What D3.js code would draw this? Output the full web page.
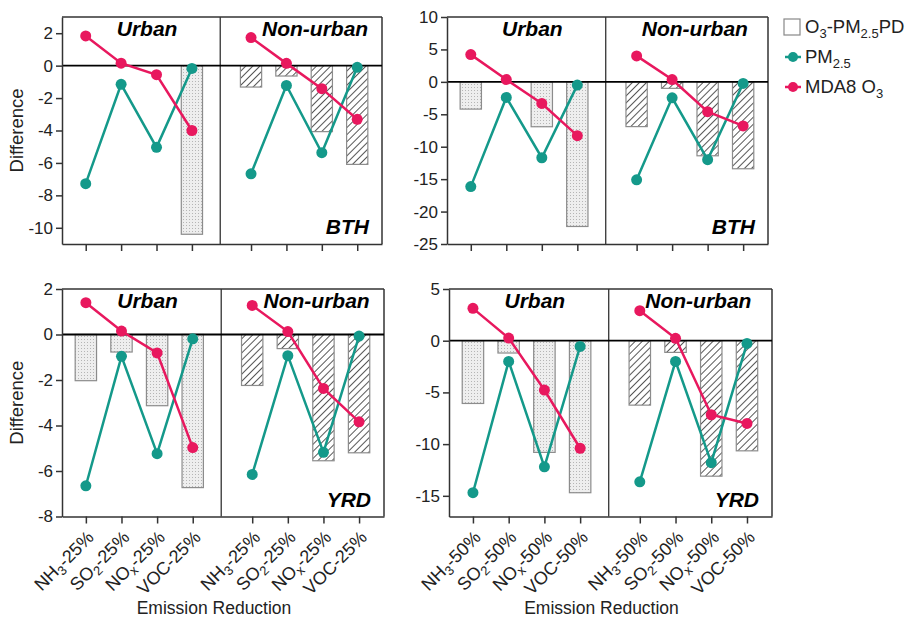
<!DOCTYPE html>
<html>
<head>
<meta charset="utf-8">
<title>Emission reduction differences</title>
<script src="https://cdn.jsdelivr.net/npm/d3@7"></script>
<style>
  body { margin: 0; background: #fff; }
  svg { font-family: "Liberation Sans", Arial, Helvetica, sans-serif; }
  .tick text { font-size: 17px; fill: #222; }
  .domain, .tick line { stroke: #333; stroke-width: 1.5; }
</style>
</head>
<body>
<script>
// values (difference, by emission reduction)
var pollutantMain = ["NH", "SO", "NO", "VOC"];
var pollutantSub = ["3", "2", "x", ""];
var cuts = ["-25%", "-50%"];
var regions = ["Urban", "Non-urban"];

var bth25_pd_urban = [0, 0, 0, -10.4];
var bth25_pd_nonurban = [-1.32, -0.64, -4.07, -6.09];
var bth25_pm_urban = [-7.28, -1.15, -5.04, -0.17];
var bth25_pm_nonurban = [-6.67, -1.22, -5.37, -0.1];
var bth25_o3_urban = [1.83, 0.15, -0.56, -4.0];
var bth25_o3_nonurban = [1.73, 0.14, -1.42, -3.31];

var bth50_pd_urban = [-4.2, 0, -6.92, -22.3];
var bth50_pd_nonurban = [-6.9, -1.0, -11.4, -13.4];
var bth50_pm_urban = [-16.15, -2.4, -11.7, -0.5];
var bth50_pm_nonurban = [-15.1, -2.46, -12.0, -0.25];
var bth50_o3_urban = [4.2, 0.36, -3.33, -8.3];
var bth50_o3_nonurban = [4.0, 0.36, -4.6, -6.8];

var yrd25_pd_urban = [-2.03, -0.77, -3.13, -6.73];
var yrd25_pd_nonurban = [-2.24, -0.62, -5.55, -5.2];
var yrd25_pm_urban = [-6.65, -0.96, -5.24, -0.19];
var yrd25_pm_nonurban = [-6.15, -0.93, -5.18, -0.07];
var yrd25_o3_urban = [1.4, 0.15, -0.81, -4.97];
var yrd25_o3_nonurban = [1.28, 0.13, -2.37, -3.84];

var yrd50_pd_urban = [-6.07, -1.19, -10.8, -14.7];
var yrd50_pd_nonurban = [-6.23, -1.13, -13.1, -10.65];
var yrd50_pm_urban = [-14.7, -2.0, -12.2, -0.55];
var yrd50_pm_nonurban = [-13.65, -2.0, -11.8, -0.26];
var yrd50_o3_urban = [3.13, 0.26, -4.77, -10.4];
var yrd50_o3_nonurban = [2.9, 0.23, -7.16, -8.0];

var ticksBth25 = [2, 0, -2, -4, -6, -8, -10];
var ticksBth50 = [10, 5, 0, -5, -10, -15, -20, -25];
var ticksYrd25 = [2, 0, -2, -4, -6, -8];
var ticksYrd50 = [5, 0, -5, -10, -15];

var teal = "#14998a", pink = "#e8185e";

var svg = d3.select("body").append("svg")
    .attr("width", 919).attr("height", 624);

var defs = svg.append("defs");
var dots = defs.append("pattern").attr("id", "dots")
    .attr("patternUnits", "userSpaceOnUse").attr("width", 3).attr("height", 3);
dots.append("rect").attr("width", 3).attr("height", 3).attr("fill", "#eeeeee");
dots.append("rect").attr("width", 1).attr("height", 1).attr("fill", "#b5b5b5");
var hatch = defs.append("pattern").attr("id", "hatch")
    .attr("patternUnits", "userSpaceOnUse").attr("width", 5).attr("height", 5)
    .attr("patternTransform", "rotate(45)");
hatch.append("rect").attr("width", 5).attr("height", 5).attr("fill", "#fff");
hatch.append("line").attr("x1", 0).attr("y1", 0).attr("x2", 0).attr("y2", 5)
    .attr("stroke", "#444").attr("stroke-width", 1.8);

var panels = [
  {x0: 62, x1: 382, y0: 17, y1: 244, domain: [-11, 3], ticks: ticksBth25, name: "BTH", cut: 0, ylab: true, xlab: false, shift: 14,
   pd: [bth25_pd_urban, bth25_pd_nonurban], pm: [bth25_pm_urban, bth25_pm_nonurban], o3: [bth25_o3_urban, bth25_o3_nonurban]},
  {x0: 447, x1: 768, y0: 17, y1: 244, domain: [-25, 10], ticks: ticksBth50, name: "BTH", cut: 1, ylab: false, xlab: false, shift: 8,
   pd: [bth50_pd_urban, bth50_pd_nonurban], pm: [bth50_pm_urban, bth50_pm_nonurban], o3: [bth50_o3_urban, bth50_o3_nonurban]},
  {x0: 62, x1: 384, y0: 289, y1: 516.5, domain: [-8, 2], ticks: ticksYrd25, name: "YRD", cut: 0, ylab: true, xlab: true, shift: 14,
   pd: [yrd25_pd_urban, yrd25_pd_nonurban], pm: [yrd25_pm_urban, yrd25_pm_nonurban], o3: [yrd25_o3_urban, yrd25_o3_nonurban]},
  {x0: 449, x1: 772, y0: 289, y1: 516.5, domain: [-17, 5], ticks: ticksYrd50, name: "YRD", cut: 1, ylab: false, xlab: true, shift: 8,
   pd: [yrd50_pd_urban, yrd50_pd_nonurban], pm: [yrd50_pm_urban, yrd50_pm_nonurban], o3: [yrd50_o3_urban, yrd50_o3_nonurban]}
];

function slot(r, i) { return r * 4.67 + i; }
var slots = [0, 1, 2, 3, 4.67, 5.67, 6.67, 7.67];

panels.forEach(function(p) {
  var g = svg.append("g");
  var x = d3.scaleLinear().domain([-0.67, 8.37]).range([p.x0, p.x1]);
  var y = d3.scaleLinear().domain(p.domain).range([p.y1, p.y0]);
  var bw = (x(1) - x(0)) * 0.6;

  // bars (zero values draw nothing)
  regions.forEach(function(reg, r) {
    g.selectAll(null).data(p.pd[r]).enter()
      .append("rect")
        .attr("x", function(d, i) { return x(slot(r, i)) - bw / 2; })
        .attr("y", function(d) { return y(Math.max(0, d)); })
        .attr("width", bw)
        .attr("height", function(d) { return Math.abs(y(d) - y(0)); })
        .attr("fill", r === 0 ? "url(#dots)" : "url(#hatch)")
        .attr("stroke", function(d) { return d === 0 ? "none" : "#8c8c8c"; })
        .attr("stroke-width", 1.2);
  });

  // frame
  g.append("line").attr("x1", p.x0).attr("x2", p.x1).attr("y1", p.y0).attr("y2", p.y0)
    .attr("stroke", "#333").attr("stroke-width", 1.5);
  g.append("line").attr("x1", p.x1).attr("x2", p.x1).attr("y1", p.y0).attr("y2", p.y1)
    .attr("stroke", "#333").attr("stroke-width", 1.5);
  g.append("line").attr("x1", x(3.8)).attr("x2", x(3.8)).attr("y1", p.y0).attr("y2", p.y1)
    .attr("stroke", "#333").attr("stroke-width", 1.3);
  g.append("line").attr("x1", p.x0).attr("x2", p.x1).attr("y1", y(0)).attr("y2", y(0))
    .attr("stroke", "#000").attr("stroke-width", 1.8);

  g.append("g").attr("transform", "translate(" + p.x0 + ",0)")
    .call(d3.axisLeft(y).tickValues(p.ticks).tickSize(6).tickSizeOuter(0).tickPadding(3)
      .tickFormat(function(d) { return String(d); }));
  g.append("g").attr("transform", "translate(0," + p.y1 + ")")
    .call(d3.axisBottom(x).tickValues(slots).tickSize(7).tickSizeOuter(0).tickFormat(""));

  // lines and markers
  [[p.pm, teal], [p.o3, pink]].forEach(function(s) {
    regions.forEach(function(reg, r) {
      var line = d3.line().x(function(d, i) { return x(slot(r, i)); }).y(function(d) { return y(d); });
      g.append("path").datum(s[0][r]).attr("d", line)
        .attr("fill", "none").attr("stroke", s[1]).attr("stroke-width", 2.5);
      g.selectAll(null).data(s[0][r]).enter().append("circle")
        .attr("cx", function(d, i) { return x(slot(r, i)); })
        .attr("cy", function(d) { return y(d); })
        .attr("r", 5.5).attr("fill", s[1]);
    });
  });

  // titles
  var rc0 = (p.x0 + x(3.8)) / 2, rc1 = (x(3.8) + p.x1) / 2;
  g.append("text").attr("x", rc0 + 6).attr("y", p.y0 + 19).attr("text-anchor", "middle")
    .attr("font-size", 21).attr("font-weight", "bold").attr("font-style", "italic").text(regions[0]);
  g.append("text").attr("x", rc1 + p.shift).attr("y", p.y0 + 19).attr("text-anchor", "middle")
    .attr("font-size", 21).attr("font-weight", "bold").attr("font-style", "italic").text(regions[1]);
  g.append("text").attr("x", p.x1 - 13).attr("y", p.y1 - 10).attr("text-anchor", "end")
    .attr("font-size", 21).attr("font-weight", "bold").attr("font-style", "italic").text(p.name);

  if (p.ylab) {
    var cy = (p.y0 + p.y1) / 2;
    g.append("text").attr("transform", "translate(23," + cy + ") rotate(-90)")
      .attr("text-anchor", "middle").attr("font-size", 18.5).attr("fill", "#222").text("Difference");
  }

  if (p.xlab) {
    slots.forEach(function(s, k) {
      var j = k % 4;
      var t = g.append("text")
        .attr("transform", "translate(" + (x(s) + 9) + "," + (p.y1 + 22) + ") rotate(-45)")
        .attr("text-anchor", "end").attr("font-size", 18).attr("fill", "#222");
      t.append("tspan").text(pollutantMain[j]);
      if (pollutantSub[j]) {
        t.append("tspan").attr("dy", 4).attr("font-size", 13).text(pollutantSub[j]);
        t.append("tspan").attr("dy", -4).text(cuts[p.cut]);
      } else {
        t.append("tspan").text(cuts[p.cut]);
      }
    });
    g.append("text").attr("x", (p.x0 + p.x1) / 2 - 9).attr("y", 614)
      .attr("text-anchor", "middle").attr("font-size", 17.5).attr("fill", "#222").text("Emission Reduction");
  }
});

// legend
var lg = svg.append("g").attr("font-size", 18.5).attr("fill", "#222");
lg.append("rect").attr("x", 784).attr("y", 19).attr("width", 16).attr("height", 16)
  .attr("fill", "#fff").attr("stroke", "#888").attr("stroke-width", 1.2);
var t1 = lg.append("text").attr("x", 805).attr("y", 33);
t1.append("tspan").text("O");
t1.append("tspan").attr("dy", 5).attr("font-size", 13).text("3");
t1.append("tspan").attr("dy", -5).text("-PM");
t1.append("tspan").attr("dy", 5).attr("font-size", 13).text("2.5");
t1.append("tspan").attr("dy", -5).text("PD");

[[teal, 57, ["PM", "2.5"]], [pink, 87, ["MDA8 O", "3"]]].forEach(function(l) {
  lg.append("line").attr("x1", 785).attr("x2", 801).attr("y1", l[1]).attr("y2", l[1])
    .attr("stroke", l[0]).attr("stroke-width", 2.5);
  lg.append("circle").attr("cx", 793).attr("cy", l[1]).attr("r", 5).attr("fill", l[0]);
  var t = lg.append("text").attr("x", 805).attr("y", l[1] + 6);
  t.append("tspan").text(l[2][0]);
  t.append("tspan").attr("dy", 5).attr("font-size", 13).text(l[2][1]);
});
</script>
</body>
</html>
